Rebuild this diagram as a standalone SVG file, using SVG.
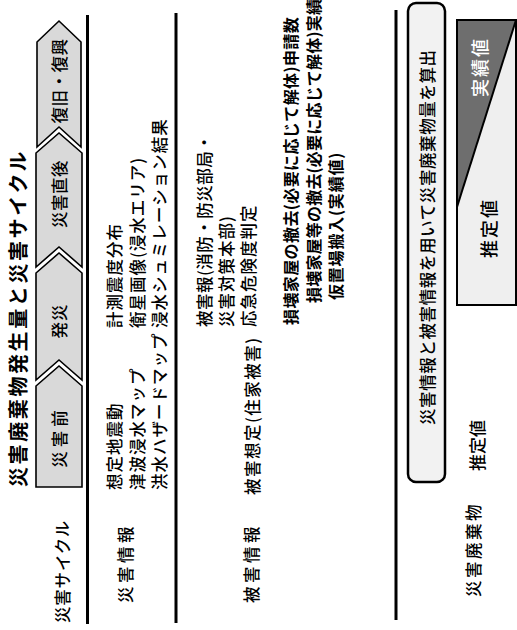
<svg xmlns="http://www.w3.org/2000/svg" width="517" height="630" viewBox="0 0 517 630">
<style>
.t{font-family:"Noto Sans CJK JP","Noto Sans CJK SC",sans-serif;font-size:16.5px;font-weight:500;fill:#000;dominant-baseline:central;letter-spacing:1px}
.b{font-weight:bold}
.tab{fill:#d9d9d9;stroke:#000;stroke-width:1.6;stroke-linejoin:miter}
.sep{stroke:#000;stroke-width:3;fill:none}
.mid{text-anchor:middle}
</style>
<rect width="517" height="630" fill="#fff"/>
<g transform="translate(0,630) rotate(-90)">
  <g id="title"><text class="t b" x="143" y="17" style="font-size:20px;letter-spacing:2.6px">災害廃棄物発生量と災害サイクル</text></g>
  <g id="connectors">
    <line class="sep" x1="6" y1="87.5" x2="615" y2="87.5"/>
    <line class="sep" x1="7" y1="176" x2="617" y2="176"/>
    <line class="sep" x1="10" y1="396" x2="620" y2="396"/>
  </g>
  <g id="tab-before">
    <path class="tab" d="M143,36 L244,36 L264,59 L244,82 L143,82 Z"/>
    <text class="t mid" x="193" y="59" style="letter-spacing:4px">災害前</text>
  </g>
  <g id="tab-occur">
    <path class="tab" d="M250,36 L357,36 L377,59 L357,82 L250,82 L270,59 Z"/>
    <text class="t mid" x="309" y="59" style="letter-spacing:1px">発災</text>
  </g>
  <g id="tab-after">
    <path class="tab" d="M363,36 L477,36 L497,59 L477,82 L363,82 L383,59 Z"/>
    <text class="t mid" x="436" y="59" style="letter-spacing:0.5px">災害直後</text>
  </g>
  <g id="tab-recovery">
    <path class="tab" d="M483,37 L588,37 L609,59 L588,81 L483,81 L503,59 Z"/>
    <text class="t mid" x="549" y="59" style="letter-spacing:0.5px">復旧・復興</text>
  </g>
  <g id="label-cycle"><text class="t" x="7" y="62" style="letter-spacing:0.8px">災害サイクル</text></g>
  <g id="label-disaster-info"><text class="t" x="27" y="125" style="letter-spacing:3.5px">災害情報</text></g>
  <g id="label-damage-info"><text class="t" x="27" y="251" style="letter-spacing:3.5px">被害情報</text></g>
  <g id="label-waste"><text class="t" x="33" y="473" style="letter-spacing:2.5px">災害廃棄物</text></g>
  <g id="label-estimate"><text class="t" x="159" y="476" style="font-size:17px;letter-spacing:0px">推定値</text></g>
  <g id="pre-disaster-info">
    <text class="t" x="140" y="114">想定地震動</text>
    <text class="t" x="140" y="137">津波浸水マップ</text>
    <text class="t" x="140" y="159">洪水ハザードマップ</text>
  </g>
  <g id="post-disaster-info">
    <text class="t" x="302" y="114">計測震度分布</text>
    <text class="t" x="302" y="137">衛星画像(浸水エリア)</text>
    <text class="t" x="302" y="159">浸水シュミレーション結果</text>
  </g>
  <g id="damage-estimate"><text class="t" x="135" y="252" style="letter-spacing:1.5px">被害想定(住家被害)</text></g>
  <g id="damage-report">
    <text class="t" x="303" y="204" style="letter-spacing:0.5px">被害報(消防・防災部局・</text>
    <text class="t" x="303" y="226">災害対策本部)</text>
    <text class="t" x="303" y="248">応急危険度判定</text>
  </g>
  <g id="actuals">
    <text class="t b" x="305" y="290" style="font-size:16px;letter-spacing:0.4px">損壊家屋の撤去(必要に応じて解体)申請数</text>
    <text class="t b" x="327" y="313" style="font-size:16px;letter-spacing:0.2px">損壊家屋等の撤去(必要に応じて解体)実績</text>
    <text class="t b" x="330" y="335" style="font-size:16px;letter-spacing:0.8px">仮置場搬入(実績値)</text>
  </g>
  <g id="calc-box">
    <rect x="148" y="408" width="479" height="37" rx="8" fill="#f2f2f2" stroke="#000" stroke-width="2.5"/>
    <text class="t" x="205" y="427" style="letter-spacing:0.6px">災害情報と被害情報を用いて災害廃棄物量を算出</text>
  </g>
  <g id="value-box">
    <rect x="325" y="457" width="285" height="59" fill="#efefef" stroke="#000" stroke-width="2"/>
    <polygon points="610,457 610,516 423,457" fill="#6e6e6e"/>
    <line x1="610" y1="516" x2="423" y2="457" stroke="#000" stroke-width="2"/>
    <rect x="325" y="457" width="285" height="59" fill="none" stroke="#000" stroke-width="2"/>
    <text class="t mid" x="563" y="479" style="font-size:18px;fill:#fff;letter-spacing:2px">実績値</text>
    <text class="t mid" x="402" y="488" style="font-size:18px;letter-spacing:2px">推定値</text>
  </g>
</g>
</svg>
